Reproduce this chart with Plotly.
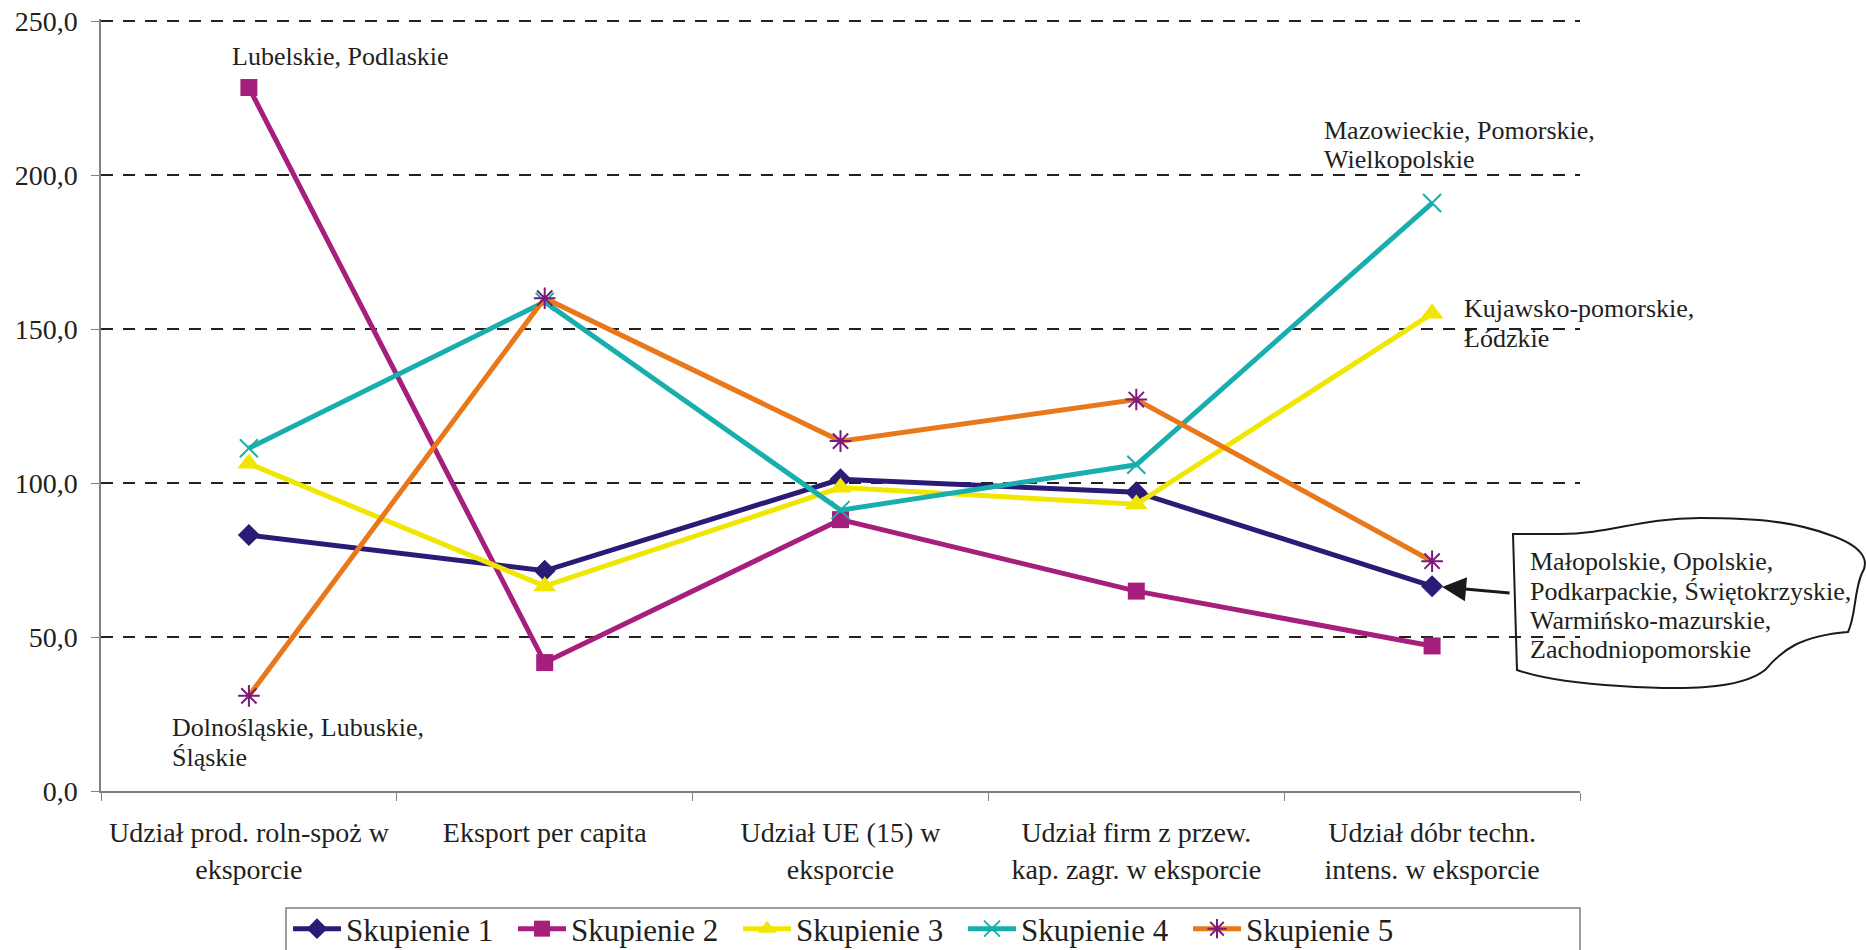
import plotly.graph_objects as go

# categories on the x axis
categories = [
    "Udział prod. roln-spoż w<br>eksporcie",
    "Eksport per capita",
    "Udział UE (15) w<br>eksporcie",
    "Udział firm z przew.<br>kap. zagr. w eksporcie",
    "Udział dóbr techn.<br>intens. w eksporcie",
]

series_names = ["Skupienie 1", "Skupienie 2", "Skupienie 3", "Skupienie 4", "Skupienie 5"]

skupienie_1 = [83.1, 71.5, 101.2, 97.0, 66.5]
skupienie_2 = [228.4, 41.7, 88.1, 64.9, 47.1]
skupienie_3 = [106.3, 66.5, 98.5, 93.1, 155.0]
skupienie_4 = [111.3, 158.8, 91.2, 105.9, 190.9]
skupienie_5 = [30.9, 160.0, 113.6, 127.1, 74.6]

y_ticks = [0, 50, 100, 150, 200, 250]

FONT = "Liberation Serif"

W, H = 1866, 950
# top margin is 2px smaller and the y range a touch above 250 so the 250 gridline is kept
L, R, T, B = 101, 286, 19, 159
PW, PH = W - L - R, H - T - B
Y_MAX = 250 * PH / (PH - 2)


# helpers: pixel -> paper coordinates (for bubble / legend frame)
def px_x(x):
    return (x - L) / PW


def px_y(y):
    return (H - B - y) / PH


def paper(x, y):
    return f"{px_x(x):.4f},{px_y(y):.4f}"


fig = go.Figure()

styles = [
    dict(color="#2b1b76", symbol="diamond", size=17, mcolor="#2b1b76", mline=0),
    dict(color="#a61f7c", symbol="square", size=17, mcolor="#a61f7c", mline=0),
    dict(color="#f0e600", symbol="triangle-up", size=20, mcolor="#f0e600", mline=0),
    dict(color="#17aead", symbol="x-thin-open", size=18, mcolor="#17aead", mline=2),
    dict(color="#e8781a", symbol="asterisk-open", size=18, mcolor="#7b1a7c", mline=2),
]

for name, vals, st in zip(series_names,
                          [skupienie_1, skupienie_2, skupienie_3, skupienie_4, skupienie_5],
                          styles):
    fig.add_trace(go.Scatter(
        x=categories, y=vals, name=name, mode="lines+markers",
        line=dict(color=st["color"], width=5),
        marker=dict(symbol=st["symbol"], size=st["size"], color=st["mcolor"],
                    line=dict(color=st["mcolor"], width=st["mline"])),
    ))

# region labels, one annotation per line
labels = [
    (["Lubelskie, Podlaskie"], -0.064, 238.6),
    (["Dolnośląskie, Lubuskie,", "Śląskie"], -0.267, 20.5),
    (["Mazowieckie, Pomorskie,", "Wielkopolskie"], 3.628, 214.6),
    (["Kujawsko-pomorskie,", "Łódzkie"], 4.101, 156.5),
    (["Małopolskie, Opolskie,", "Podkarpackie, Świętokrzyskie,",
      "Warmińsko-mazurskie,", "Zachodniopomorskie"], 4.324, 74.4),
]
for lines, x0, y0 in labels:
    for i, txt in enumerate(lines):
        fig.add_annotation(x=x0, y=y0 - i * 9.5, text=txt, showarrow=False,
                           xanchor="left", yanchor="middle",
                           font=dict(family=FONT, size=26, color="#231f20"))

# arrow from the bubble to Skupienie 1's last point
fig.add_annotation(x=4, y=skupienie_1[4], ax=79, ay=7, axref="pixel", ayref="pixel",
                   text="", showarrow=True, arrowhead=2, arrowsize=1.6,
                   arrowwidth=3, arrowcolor="#1a1a1a", standoff=10)

# callout bubble
bubble = (f"M {paper(1513, 534)} L {paper(1560, 534)} "
          f"C {paper(1610, 534)} {paper(1640, 518)} {paper(1700, 518)} "
          f"C {paper(1760, 518)} {paper(1795, 522)} {paper(1830, 535)} "
          f"C {paper(1862, 546)} {paper(1870, 560)} {paper(1862, 573)} "
          f"C {paper(1854, 590)} {paper(1856, 616)} {paper(1848, 632)} "
          f"C {paper(1800, 636)} {paper(1782, 650)} {paper(1765, 670)} "
          f"C {paper(1740, 690)} {paper(1680, 690)} {paper(1620, 686)} "
          f"C {paper(1570, 683)} {paper(1540, 678)} {paper(1517, 670)} Z")
fig.add_shape(type="path", path=bubble, xref="paper", yref="paper",
              line=dict(color="#1a1a1a", width=2), fillcolor="white", layer="below")

# legend frame
fig.add_shape(type="rect", xref="paper", yref="paper",
              x0=px_x(286), x1=px_x(1580), y0=px_y(908), y1=px_y(952),
              line=dict(color="#808080", width=1.5), fillcolor="rgba(0,0,0,0)")

fig.update_layout(
    width=W, height=H,
    margin=dict(l=L, r=R, t=T, b=B, autoexpand=False),
    plot_bgcolor="white", paper_bgcolor="white",
    separators=", ",
    font=dict(family=FONT, size=28, color="#231f20"),
    showlegend=True,
    legend=dict(orientation="h", x=px_x(288), y=px_y(902), xanchor="left", yanchor="top",
                borderwidth=0, bgcolor="rgba(0,0,0,0)",
                font=dict(family=FONT, size=31, color="#231f20"),
                itemwidth=48, entrywidth=162, tracegroupgap=0),
)

fig.update_xaxes(
    range=[-0.5, 4.5],
    showline=True, linecolor="#808080", linewidth=1.5,
    ticks="outside", tickson="boundaries", ticklen=8, tickcolor="#808080",
    showgrid=False, ticklabelstandoff=16, tickangle=0, automargin=False,
    tickfont=dict(family=FONT, size=28, color="#231f20"),
)
fig.update_yaxes(
    range=[0, Y_MAX], tickvals=y_ticks, tickformat=".1f",
    showline=True, linecolor="#808080", linewidth=1.5,
    ticks="outside", ticklen=8, tickcolor="#808080",
    showgrid=True, gridcolor="#231f20", gridwidth=2, griddash="12px,10px",
    zeroline=True, zerolinecolor="#808080", zerolinewidth=1.5,
    ticklabelstandoff=8, automargin=False, ticklabeloverflow="allow",
    tickfont=dict(family=FONT, size=28, color="#231f20"),
)

# drop the default body margin so the figure sits at the window's top-left corner
fig.write_html("out.html", config={"displayModeBar": False},
               post_script="document.body.style.margin='0';")
